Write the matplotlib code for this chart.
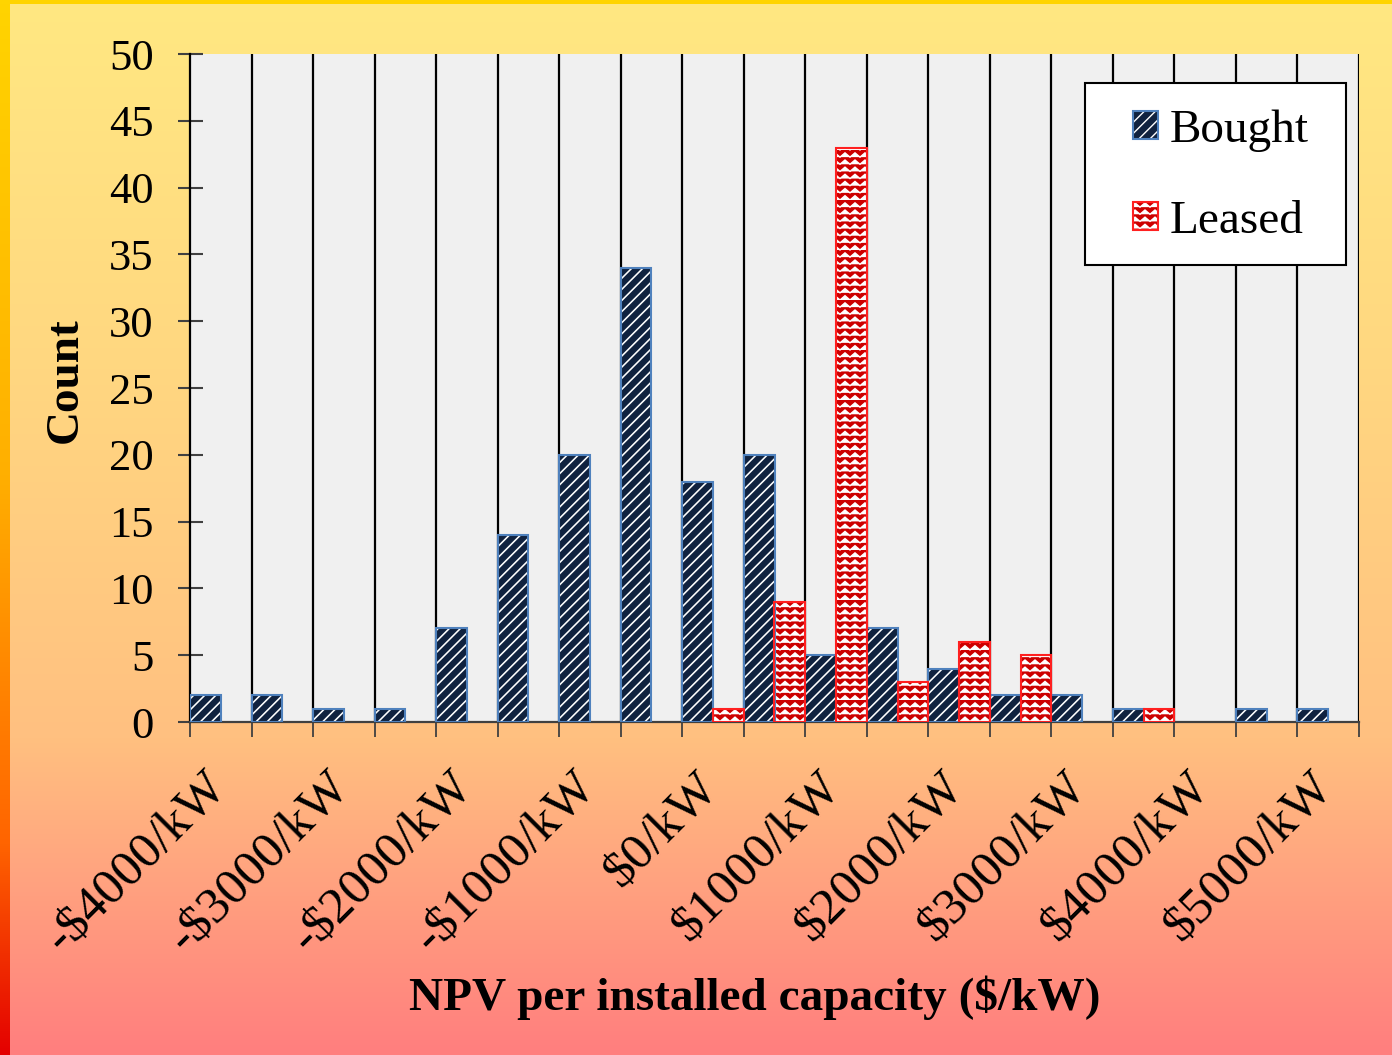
import warnings
import numpy as np
import matplotlib
matplotlib.use("Agg")
import matplotlib.pyplot as plt
import matplotlib.transforms as mtransforms
from matplotlib import hatch as mhatch
from matplotlib.path import Path
from matplotlib.patches import Rectangle
from matplotlib.legend_handler import HandlerTuple

warnings.filterwarnings("ignore")

# ---------------------------------------------------------------- data
bin_edges = list(range(-4000, 5501, 500))          # $/kW, 19 bins
tick_labels = ["-$4000/kW", "-$3000/kW", "-$2000/kW", "-$1000/kW", "$0/kW",
               "$1000/kW", "$2000/kW", "$3000/kW", "$4000/kW", "$5000/kW"]
bought = [2, 2, 1, 1, 7, 14, 20, 34, 18, 20, 5, 7, 4, 2, 2, 1, 0, 1, 1]
leased = [0, 0, 0, 0, 0, 0, 0, 0, 1, 9, 43, 3, 6, 5, 0, 1, 0, 0, 0]
series_names = ["Bought", "Leased"]


# ---------------------------------------------------------------- zigzag hatch ('z')
class ZigZagHatch(mhatch.HatchPatternBase):
    """Horizontal zigzag lines, selected with the 'z' hatch character."""

    def __init__(self, hatch, density):
        self.num_rows = hatch.count("z") * 7
        self.teeth = 10
        self.pts = 2 * self.teeth + 1
        self.num_vertices = self.num_rows * self.pts

    def set_vertices_and_codes(self, vertices, codes):
        xs = np.linspace(0.0, 1.0, self.pts)
        amp = 0.6 / max(self.num_rows, 1)
        offs = np.where(np.arange(self.pts) % 2 == 0, 0.0, amp)
        for r in range(self.num_rows):
            y0 = r / self.num_rows
            sl = slice(r * self.pts, (r + 1) * self.pts)
            vertices[sl, 0] = xs
            vertices[sl, 1] = y0 + offs
            codes[sl] = Path.LINETO
            codes[r * self.pts] = Path.MOVETO


mhatch._hatch_types.append(ZigZagHatch)

plt.rcParams["font.family"] = ["Liberation Serif", "DejaVu Serif"]

W, H = 1392, 1055
fig = plt.figure(figsize=(W / 100, H / 100), dpi=100)

# ---------------------------------------------------------------- background
yy = np.linspace(0, 1, H)[:, None]
stops = np.array([0.0, 0.35, 0.7, 1.0])
cols = np.array([[255, 232, 130], [255, 215, 128], [255, 192, 128], [255, 126, 126]]) / 255
bg = np.empty((H, W, 3))
for c in range(3):
    bg[:, :, c] = np.interp(yy, stops, cols[:, c])
# left and top borders
lstops = np.array([0.0, 0.45, 0.8, 1.0])
lcols = np.array([[255, 212, 0], [255, 175, 0], [255, 100, 0], [228, 0, 0]]) / 255
for c in range(3):
    bg[:, :10, c] = np.interp(yy, lstops, lcols[:, c])
bg[:4, :, :] = np.array([255, 212, 0]) / 255

bgax = fig.add_axes([0, 0, 1, 1], zorder=-10)
bgax.imshow(bg, aspect="auto", extent=[0, 1, 0, 1], interpolation="bilinear")
bgax.set_axis_off()

# ---------------------------------------------------------------- main axes
L, R, T, B = 190 / W, 1359 / W, 1 - 54 / H, 1 - 722 / H
ax = fig.add_axes([L, B, R - L, T - B])
ax.set_facecolor("#F0F0F0")

n = len(bought)
x = np.arange(n)
bought_a = np.array(bought)
leased_a = np.array(leased)

navy = "#10223F"
red = "#CC0000"
blue_edge = "#4F81BD"
red_edge = "#FF2020"

# hatched fills, then outlines
with plt.rc_context({"hatch.linewidth": 1.15}):
    ax.bar(x, bought_a, width=0.5, align="edge", color=navy, edgecolor="white",
           hatch="///", linewidth=0, zorder=3)
    hb_fill = ax.bar([0], [0], color=navy, edgecolor="white", hatch="///", lw=0)[0]
with plt.rc_context({"hatch.linewidth": 1.0}):
    ax.bar(x + 0.5, leased_a, width=0.5, align="edge", color=red, edgecolor="white",
           hatch="zz", linewidth=0, zorder=3)
    hl_fill = ax.bar([0], [0], color=red, edgecolor="white", hatch="zz", lw=0)[0]
ax.bar(x, bought_a, width=0.5, align="edge", facecolor="none", edgecolor=blue_edge,
       linewidth=np.where(bought_a > 0, 1.5, 0), zorder=4)
ax.bar(x + 0.5, leased_a, width=0.5, align="edge", facecolor="none", edgecolor=red_edge,
       linewidth=np.where(leased_a > 0, 1.5, 0), zorder=4)

# vertical bin separators
for i in range(1, n + 1):
    ax.axvline(i, color="black", lw=1.6, zorder=2)

ax.set_xlim(0, n)
ax.set_ylim(0, 50)
ax.set_yticks(range(0, 51, 5))
ax.tick_params(axis="y", direction="inout", length=18, width=1.5, color="#404040",
               labelsize=32, pad=17)
ax.set_xticks(range(0, n + 1))
ax.set_xticklabels([])
ax.tick_params(axis="x", direction="out", length=11, width=1.3, color="#404040")

for s in ("top", "right"):
    ax.spines[s].set_visible(False)
ax.spines["left"].set_color("black")
ax.spines["left"].set_linewidth(1.6)
ax.spines["bottom"].set_color("#404040")
ax.spines["bottom"].set_linewidth(1.6)

# rotated category labels every $1000/kW
offset = mtransforms.ScaledTranslation(9 / 72, -30 / 72, fig.dpi_scale_trans)
for k, lab in enumerate(tick_labels):
    ax.text(2 * k, 0, lab, transform=ax.get_xaxis_transform() + offset,
            rotation=45, rotation_mode="anchor", ha="right", va="top", fontsize=37)

fig.text(755 / W, 1 - 998 / H, "NPV per installed capacity ($/kW)", ha="center",
         va="center", fontsize=34, fontweight="bold")
fig.text(66 / W, 1 - 380 / H, "Count", ha="center", va="center", rotation=90,
         fontsize=34, fontweight="bold")

# ---------------------------------------------------------------- legend
box = Rectangle((1085 / W, 1 - 265 / H), (1346 - 1085) / W, (265 - 83) / H,
                transform=fig.transFigure, facecolor="white", edgecolor="black",
                lw=1.5, zorder=6)
ax.add_artist(box)
box.set_clip_on(False)

hb = (hb_fill, ax.bar([0], [0], facecolor="none", edgecolor=blue_edge, lw=1.5)[0])
hl = (hl_fill, ax.bar([0], [0], facecolor="none", edgecolor=red_edge, lw=1.5)[0])
leg = ax.legend([hb, hl], series_names, handler_map={tuple: HandlerTuple(ndivide=1)},
                loc="upper left", bbox_to_anchor=(1133 / W, 1 - 109 / H),
                bbox_transform=fig.transFigure, frameon=False, fontsize=34,
                handlelength=0.53, handleheight=0.53, handletextpad=0.25,
                labelspacing=1.03, borderpad=0, borderaxespad=0)
leg.set_zorder(7)

fig.savefig("out.png", dpi=100)
